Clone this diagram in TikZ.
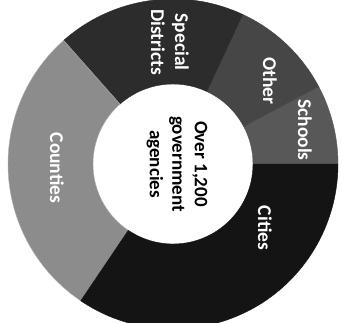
\documentclass[tikz,border=0pt]{standalone}
\usepackage{fontspec}
\setmainfont{Carlito}
\definecolor{cSchools}{HTML}{585858}
\definecolor{cOther}{HTML}{464646}
\definecolor{cSpecial}{HTML}{2C2C2C}
\definecolor{cCounties}{HTML}{8C8C8C}
\definecolor{cCities}{HTML}{141414}
\tikzset{
  seglabel/.style={text=white, font=\bfseries\fontsize{19.5}{24}\selectfont, rotate=-90, align=center, inner sep=0pt},
  centerlabel/.style={text=black, font=\bfseries\fontsize{19}{22.5}\selectfont, rotate=-90, align=center, inner sep=0pt},
  sector/.style={draw=#1, line width=0.4pt}
}
\newcommand{\donutseg}[4]{% fill color, start, end, border color
  \fill[#1, sector=#4] (#2:165) arc[start angle=#2, end angle=#3, radius=165] -- (#3:80) arc[start angle=#3, end angle=#2, radius=80] -- cycle;
}
\begin{document}
\begin{tikzpicture}[x=1pt,y=1pt]
\useasboundingbox (0,0) rectangle (345,322);
\clip (0,0) rectangle (345,322);
\fill[white] (0,0) rectangle (345,322);
\begin{scope}[shift={(173,158)}]
  \donutseg{cSchools}{0}{28}{cSchools}
  \donutseg{cOther}{28}{65}{cOther}
  \donutseg{cSpecial}{65}{131.5}{cSpecial}
  \donutseg{cCounties}{131.5}{236}{cCounties!70!white}
  \donutseg{cCities}{236}{360}{cCities}
  \coordinate (ctr) at (0,0);
\end{scope}
\node[seglabel] (special) at (170,280) {Special\\Districts};
\node[seglabel] (other) at (270,241) {Other};
\node[seglabel] (schools) at (305,192) {Schools};
\node[seglabel] (cities) at (265,94) {Cities};
\node[seglabel] (counties) at (57,154) {Counties};
\node[centerlabel] (center) at (177,158) {Over 1,200\\government\\agencies};
\end{tikzpicture}
\end{document}
